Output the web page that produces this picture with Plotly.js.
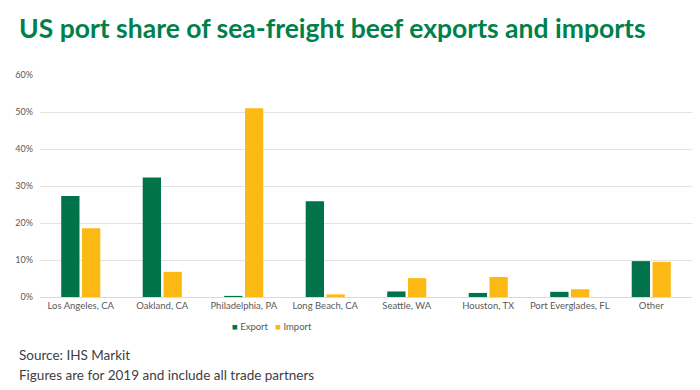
<!DOCTYPE html>
<html><head><meta charset="utf-8">
<script src="https://cdn.plot.ly/plotly-3.0.1.min.js"></script>
<style>body{margin:0;background:#fff}#c{width:700px;height:390px}</style>
</head><body><div id="c"></div>
<script>
const categories = ["Los Angeles, CA","Oakland, CA","Philadelphia, PA","Long Beach, CA","Seattle, WA","Houston, TX","Port Everglades, FL","Other"];
const exportShare = [0.273, 0.323, 0.003, 0.259, 0.015, 0.011, 0.014, 0.097];
const importShare = [0.186, 0.068, 0.510, 0.007, 0.051, 0.054, 0.021, 0.095];
const yTicks = [0, 0.1, 0.2, 0.3, 0.4, 0.5, 0.6];
const yTickLabels = ["0%","10%","20%","30%","40%","50%","60%"];
const seriesNames = ["Export","Import"];
const seriesColors = ["#00734A","#FDB913"];

const data = [
  {type:'bar', name:seriesNames[0], x:categories, y:exportShare, marker:{color:seriesColors[0]}, hoverinfo:'skip'},
  {type:'bar', name:seriesNames[1], x:categories, y:importShare, marker:{color:seriesColors[1]}, hoverinfo:'skip'}
];
const legendText = seriesNames.map((n,i)=>`<span style="color:${seriesColors[i]}">■</span>&nbsp;${n}`).join('&nbsp;&nbsp;&nbsp;');
const layout = {
  width:700, height:390,
  margin:{l:40, r:8, t:75, b:93},
  paper_bgcolor:'#fff', plot_bgcolor:'#fff',
  font:{family:'Lato, sans-serif', color:'#595959', size:9},
  barmode:'group', bargap:0.49, bargroupgap:0.12,
  showlegend:false,
  xaxis:{tickfont:{size:9.5, color:'#595959'}, showline:true, linecolor:'#d9d9d9', ticks:'', fixedrange:true},
  yaxis:{range:[0,0.6], tickvals:yTicks, ticktext:yTickLabels, gridcolor:'#e3e3e3', showline:false, zeroline:false, tickfont:{size:9, color:'#595959'}, ticklabelstandoff:6, fixedrange:true},
  annotations:[
    {text:'<b>US port share of sea-freight beef exports and imports</b>', xref:'paper', yref:'paper', x:0, xshift:-23, y:1, yshift:47, xanchor:'left', yanchor:'middle', showarrow:false, font:{family:'Lato, sans-serif', size:26.5, color:'#00804A'}},
    {text:legendText, xref:'paper', yref:'paper', x:0.5, xshift:-94, y:0, yshift:-29, xanchor:'center', yanchor:'middle', showarrow:false, font:{family:'Lato, sans-serif', size:9.5, color:'#595959'}},
    {text:'Source: IHS Markit', xref:'paper', yref:'paper', x:0, xshift:-23, y:0, yshift:-58, xanchor:'left', yanchor:'middle', showarrow:false, font:{family:'Lato, sans-serif', size:13.5, color:'#404040'}},
    {text:'Figures are for 2019 and include all trade partners', xref:'paper', yref:'paper', x:0, xshift:-23, y:0, yshift:-78, xanchor:'left', yanchor:'middle', showarrow:false, font:{family:'Lato, sans-serif', size:13.5, color:'#404040'}}
  ]
};
Plotly.newPlot('c', data, layout, {displayModeBar:false, staticPlot:true});
</script></body></html>
